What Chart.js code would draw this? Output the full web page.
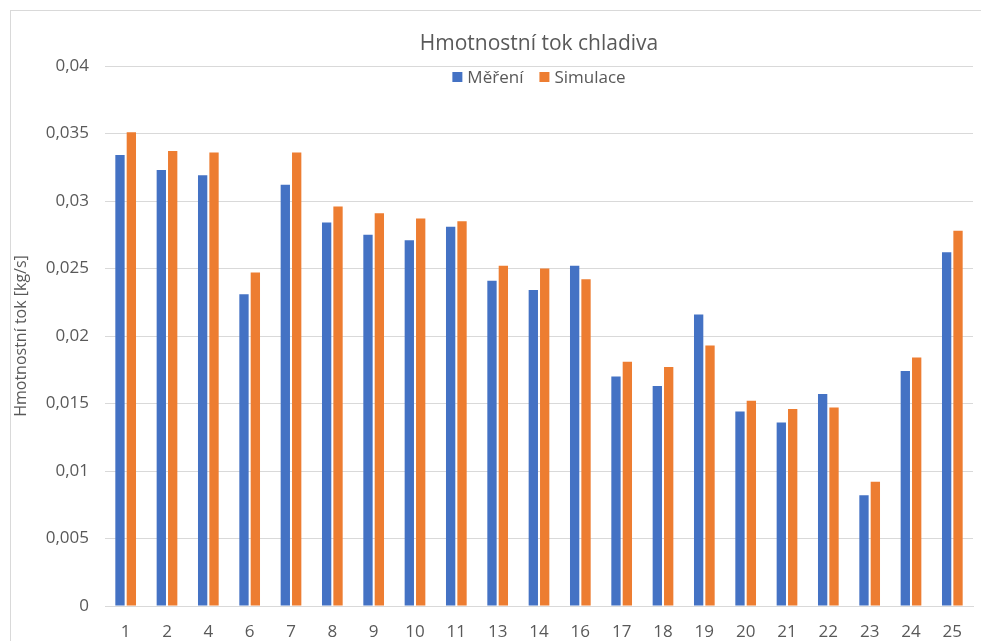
<!DOCTYPE html>
<html>
<head>
<meta charset="utf-8">
<script src="https://cdn.jsdelivr.net/npm/chart.js@4"></script>
<style>
  html, body { margin: 0; padding: 0; background: #fff; }
</style>
</head>
<body>
<canvas id="myChart" width="981" height="641"></canvas>
<script>
// Chart data
const categories = ["1", "2", "4", "6", "7", "8", "9", "10", "11", "13", "14", "16", "17", "18", "19", "20", "21", "22", "23", "24", "25"];
const mereni = [0.0334, 0.0323, 0.0319, 0.0231, 0.0312, 0.0284, 0.0275, 0.0271, 0.0281, 0.0241, 0.0234, 0.0252, 0.0170, 0.0163, 0.0216, 0.0144, 0.0136, 0.0157, 0.0082, 0.0174, 0.0262];
const simulace = [0.0351, 0.0337, 0.0336, 0.0247, 0.0336, 0.0296, 0.0291, 0.0287, 0.0285, 0.0252, 0.0250, 0.0242, 0.0181, 0.0177, 0.0193, 0.0152, 0.0146, 0.0147, 0.0092, 0.0184, 0.0278];
const chartTitle = "Hmotnostní tok chladiva";

const textColor = "#595959";
const fontFamily = "'Open Sans', sans-serif";

// Outer frame like the spreadsheet chart box
const framePlugin = {
  id: "frame",
  beforeDraw(chart) {
    const ctx = chart.ctx;
    ctx.save();
    ctx.fillStyle = "#ffffff";
    ctx.fillRect(0, 0, chart.width, chart.height);
    ctx.strokeStyle = "#d9d9d9";
    ctx.lineWidth = 1;
    ctx.strokeRect(10.5, 10.5, chart.width + 10, chart.height + 10);
    ctx.restore();
  },
};

// Title and legend drawn over the plot area, centred on it
const headerPlugin = {
  id: "header",
  afterDraw(chart) {
    const ctx = chart.ctx;
    const area = chart.chartArea;
    const cx = (area.left + area.right) / 2;
    ctx.save();
    ctx.textBaseline = "middle";
    ctx.fillStyle = textColor;
    ctx.font = "21px " + fontFamily;
    ctx.textAlign = "center";
    ctx.fillText(chartTitle, cx, 44);

    const y = 77;
    const box = 10;
    const gap = 5;
    const spacing = 16;
    ctx.textAlign = "left";
    ctx.font = "17px " + fontFamily;
    const items = chart.data.datasets.map((ds) => ({
      label: ds.label,
      color: ds.backgroundColor,
      w: box + gap + ctx.measureText(ds.label).width,
    }));
    const total = items.reduce((s, it) => s + it.w, 0) + spacing * (items.length - 1);
    let x = cx - total / 2;
    items.forEach((it) => {
      ctx.fillStyle = it.color;
      ctx.fillRect(x, y - box / 2, box, box);
      ctx.fillStyle = textColor;
      ctx.fillText(it.label, x + box + gap, y + 1);
      x += it.w + spacing;
    });
    ctx.restore();
  },
};

new Chart(document.getElementById("myChart"), {
  type: "bar",
  data: {
    labels: categories,
    datasets: [
      {
        label: "Měření",
        data: mereni,
        backgroundColor: "#4472C4",
        categoryPercentage: 0.55,
        barPercentage: 0.82,
      },
      {
        label: "Simulace",
        data: simulace,
        backgroundColor: "#ED7D31",
        categoryPercentage: 0.55,
        barPercentage: 0.82,
      },
    ],
  },
  options: {
    responsive: false,
    animation: false,
    layout: { padding: { left: 0, right: 8, top: 66, bottom: 0 } },
    plugins: {
      legend: { display: false },
      tooltip: { enabled: false },
      title: { display: false },
    },
    scales: {
      x: {
        grid: { display: false, drawTicks: false },
        border: { display: true, color: "#d9d9d9" },
        ticks: {
          color: textColor,
          font: { family: fontFamily, size: 17 },
          padding: 16,
          maxRotation: 0,
          autoSkip: false,
        },
        afterFit(scale) {
          scale.height = 35;
        },
      },
      y: {
        min: 0,
        max: 0.04,
        grid: { color: "#d9d9d9", drawTicks: false },
        border: { display: false },
        ticks: {
          stepSize: 0.005,
          color: textColor,
          font: { family: fontFamily, size: 17 },
          padding: 16,
          callback: (v) => String(Number(v.toFixed(3))).replace(".", ","),
        },
        title: {
          display: true,
          text: "Hmotnostní tok [kg/s]",
          color: textColor,
          font: { family: fontFamily, size: 16 },
          padding: { top: 12, bottom: 0 },
        },
        afterFit(scale) {
          scale.width = 105;
        },
      },
    },
  },
  plugins: [framePlugin, headerPlugin],
});
</script>
</body>
</html>
